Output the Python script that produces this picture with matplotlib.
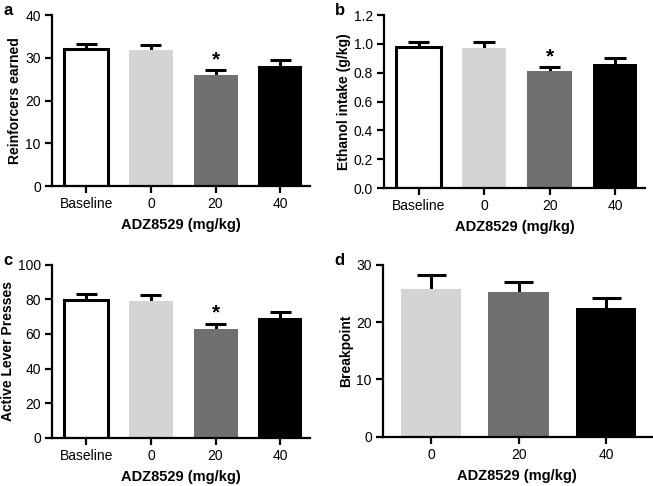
import matplotlib
matplotlib.use("Agg")
import matplotlib.pyplot as plt

plt.rcParams['font.family'] = ['Liberation Sans', 'DejaVu Sans']

cats4 = ["Baseline", "0", "20", "40"]
cats3 = ["0", "20", "40"]
colors4 = ["white", "#d4d4d4", "#707070", "black"]
colors3 = ["#d4d4d4", "#707070", "black"]

reinf = [32.0, 31.8, 26.1, 28.0]
reinf_err = [1.3, 1.3, 1.0, 1.5]
etoh = [0.98, 0.975, 0.81, 0.862]
etoh_err = [0.035, 0.04, 0.03, 0.04]
alp = [79.5, 79.0, 63.0, 69.0]
alp_err = [3.5, 3.5, 3.0, 4.0]
bp = [25.8, 25.3, 22.4]
bp_err = [2.5, 1.7, 1.8]

sig = [False, False, True, False]

xlabel = "ADZ8529 (mg/kg)"

fig = plt.figure(figsize=(6.53, 4.86), dpi=100)

def panel(rect, cats, vals, errs, colors, ylim, yticks, yfmt, ylabel, letter, sigs, width, xlim):
    ax = fig.add_axes(rect)
    x = list(range(len(cats)))
    for i, (v, e, c) in enumerate(zip(vals, errs, colors)):
        ax.vlines(i, v, v + e, colors="black", linewidth=2.2, zorder=1)
        ax.hlines(v + e, i - width * 0.24, i + width * 0.24, colors="black", linewidth=2.2, zorder=1)
        if c == "white":
            ax.bar(i, v, width=width, color="white", edgecolor="black", linewidth=2.2, zorder=2)
        else:
            ax.bar(i, v, width=width, color=c, edgecolor=c, linewidth=0, zorder=2)
        if sigs and sigs[i]:
            ax.text(i, v + e + (ylim[1] - ylim[0]) * 0.005, "*", ha="center", va="bottom",
                    fontsize=15, fontweight="bold")
    ax.set_xlim(*xlim)
    ax.set_ylim(*ylim)
    ax.set_yticks(yticks)
    ax.set_yticklabels([yfmt.format(t) for t in yticks], fontsize=10)
    ax.set_xticks(x)
    ax.set_xticklabels(cats, fontsize=10)
    ax.set_xlabel(xlabel, fontsize=10.5, fontweight="bold", labelpad=5)
    ax.set_ylabel(ylabel, fontsize=10, fontweight="bold", labelpad=2)
    for s in ["top", "right"]:
        ax.spines[s].set_visible(False)
    for s in ["left", "bottom"]:
        ax.spines[s].set_linewidth(1.6)
    ax.tick_params(width=1.6, length=5, direction="out", pad=3)
    fig.text(rect[0] - 0.075, rect[1] + rect[3] + 0.01, letter, fontsize=12,
             fontweight="bold", va="center", ha="left")
    return ax

panel([0.0796, 0.617, 0.395, 0.352], cats4, reinf, reinf_err, colors4,
      (0, 40), [0, 10, 20, 30, 40], "{:.0f}", "Reinforcers earned", "a", sig, 0.68, (-0.53, 3.46))
panel([0.588, 0.613, 0.400, 0.356], cats4, etoh, etoh_err, colors4,
      (0, 1.2), [0, 0.2, 0.4, 0.6, 0.8, 1.0, 1.2], "{:.1f}", "Ethanol intake (g/kg)", "b", sig, 0.68, (-0.53, 3.46))
panel([0.0796, 0.0994, 0.395, 0.3556], cats4, alp, alp_err, colors4,
      (0, 100), [0, 20, 40, 60, 80, 100], "{:.0f}", "Active Lever Presses", "c", sig, 0.68, (-0.53, 3.46))
panel([0.5865, 0.1015, 0.4115, 0.3535], cats3, bp, bp_err, colors3,
      (0, 30), [0, 10, 20, 30], "{:.0f}", "Breakpoint", "d", None, 0.69, (-0.55, 2.52))

fig.savefig("out.png", dpi=100)
